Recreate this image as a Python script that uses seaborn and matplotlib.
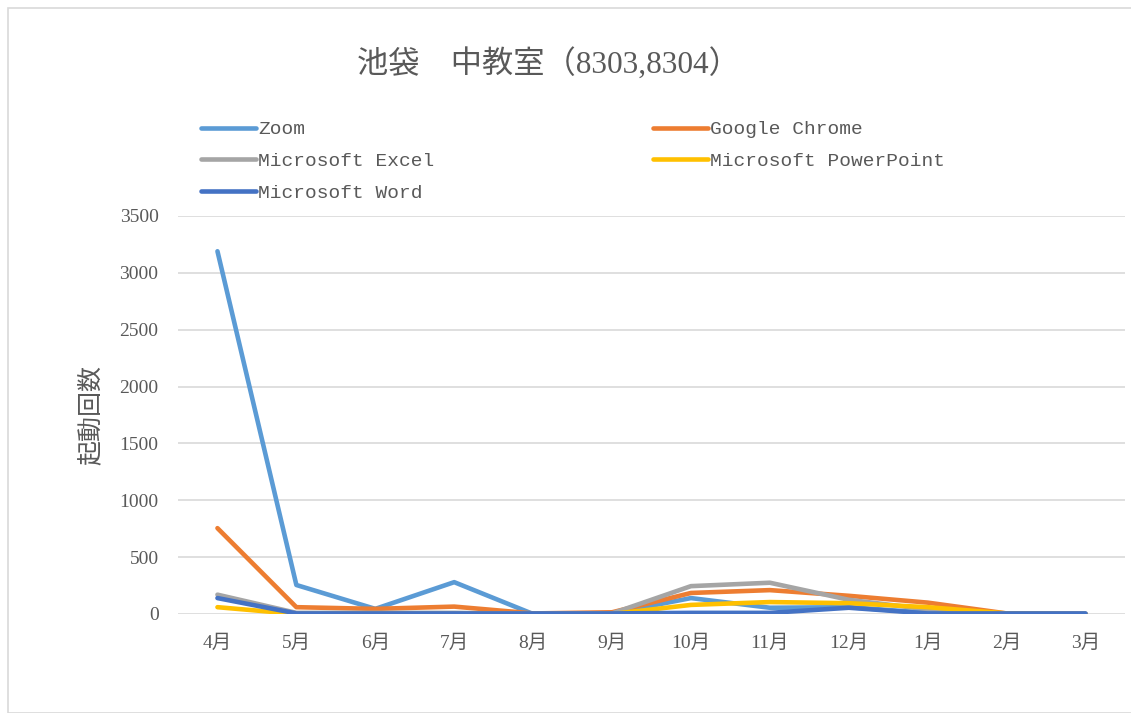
import matplotlib
matplotlib.use("Agg")
import matplotlib.pyplot as plt
import matplotlib.patches as patches
import seaborn as sns
import pandas as pd

# データ
months = ['4月', '5月', '6月', '7月', '8月', '9月', '10月', '11月', '12月', '1月', '2月', '3月']
apps = ['Zoom', 'Google Chrome', 'Microsoft Excel', 'Microsoft PowerPoint', 'Microsoft Word']
zoom = [3190, 255, 45, 280, 0, 5, 140, 55, 60, 10, 0, 0]
chrome = [755, 60, 45, 65, 5, 15, 185, 210, 160, 100, 5, 0]
excel = [170, 10, 10, 10, 0, 5, 245, 275, 125, 40, 0, 0]
powerpoint = [60, 0, 0, 0, 0, 0, 80, 105, 95, 60, 5, 0]
word = [140, 5, 5, 5, 5, 5, 10, 10, 55, 5, 5, 5]
colors = ['#5B9BD5', '#ED7D31', '#A5A5A5', '#FFC000', '#4472C4']

rows = []
for app, vals in zip(apps, [zoom, chrome, excel, powerpoint, word]):
    for i, (m, v) in enumerate(zip(months, vals)):
        rows.append({'month': m, 'idx': i, 'app': app, 'count': v})
df = pd.DataFrame(rows)

sns.set_theme(style='whitegrid')
plt.rcParams['font.family'] = ['Liberation Serif', 'Noto Sans CJK JP']
txt = '#595959'

fig = plt.figure(figsize=(11.31, 7.13), dpi=100)
ax = fig.add_axes([178 / 1131, 99 / 713, 947 / 1131, 398 / 713])

sns.lineplot(data=df, x='idx', y='count', hue='app', hue_order=apps,
             palette=colors, linewidth=3.3, ax=ax, legend=False,
             solid_capstyle='round')

ax.set_xlim(-0.5, 11.5)
ax.set_ylim(0, 3500)
ax.set_yticks(range(0, 3501, 500))
ax.set_xticks(range(len(months)))
ax.set_xticklabels(months)
ax.tick_params(axis='both', colors=txt, labelsize=14, length=0)
ax.tick_params(axis='x', pad=15)
ax.tick_params(axis='y', pad=14)
ax.grid(axis='y', color='#d9d9d9', linewidth=1.2)
ax.grid(axis='x', visible=False)
for s in ax.spines.values():
    s.set_visible(False)
ax.set_xlabel('')
ax.set_ylabel('起動回数', color=txt, fontsize=18, labelpad=12)

fig.text(0.485, 0.911, '池袋　中教室（8303,8304）', ha='center', va='center',
         fontsize=22.5, color=txt)

# 凡例（行優先にするため順番を入れ替え）
lines = ax.get_lines()[:5]
order = [0, 2, 4, 1, 3]
fig.legend([lines[i] for i in order], [apps[i] for i in order], ncol=2,
           mode='expand', frameon=False, labelcolor=txt,
           prop={'family': ['Liberation Mono'], 'size': 14},
           handlelength=2.85, handletextpad=0.1, labelspacing=0.72,
           loc='upper left',
           bbox_to_anchor=(193 / 1131, 1 - 213 / 713, 760 / 1131, 100 / 713),
           borderaxespad=0)

# 外枠
fig.patches.append(patches.Rectangle((8 / 1131, 0), 1.2, 1 - 8 / 713,
                                     transform=fig.transFigure, fill=False,
                                     edgecolor='#d9d9d9', linewidth=1.2))

fig.savefig('out.png', dpi=100)
